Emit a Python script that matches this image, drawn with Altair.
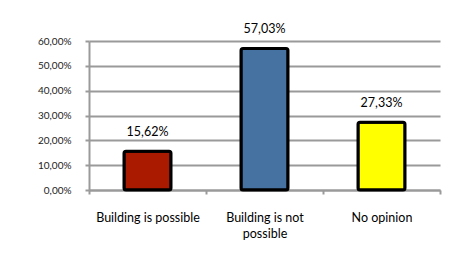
import altair as alt
import pandas as pd

categories = ["Building is possible", "Building is not possible", "No opinion"]
values = [0.1562, 0.5703, 0.2733]
colors = ["#aa1a00", "#4672a2", "#ffff00"]
y_ticks = [0, 0.1, 0.2, 0.3, 0.4, 0.5, 0.6]

df = pd.DataFrame({"cat": categories, "value": values, "color": colors})

FONT = "Lato"
GRID = "#9a9a9a"

x_main = alt.X(
    "cat:N", sort=categories, title=None,
    scale=alt.Scale(paddingInner=0, paddingOuter=0),
    axis=alt.Axis(
        labelAngle=0, ticks=True, tickBand="extent", tickSize=4, tickColor=GRID, tickWidth=2,
        domain=True, domainColor=GRID, domainWidth=2,
        labelFont=FONT, labelFontSize=12.5, labelColor="#000000", labelPadding=17,
        labelLineHeight=16, labelLimit=200,
        labelExpr="datum.label == 'Building is not possible' ? ['Building is not', 'possible'] : datum.label",
    ),
)

y_enc = alt.Y(
    "value:Q", title=None,
    scale=alt.Scale(domain=[0, 0.6], nice=False),
    axis=alt.Axis(
        values=y_ticks, tickCount=7,
        labelOverlap=False, labelBound=False,
        labelExpr="replace(format(datum.value, '.2%'), '.', ',')",
        labelFont=FONT, labelFontSize=10, labelColor="#222222",
        tickSize=4, tickColor=GRID, tickWidth=2, labelPadding=14,
        grid=True, gridColor=GRID, gridWidth=2,
        domain=True, domainColor=GRID, domainWidth=2,
    ),
)

base = alt.Chart(df)

bars = base.mark_bar(size=47, stroke="#000000", strokeWidth=3, cornerRadius=2).encode(
    x=x_main,
    y=y_enc,
    color=alt.Color("color:N", scale=None, legend=None),
)

text = base.transform_calculate(
    label="replace(format(datum.value, '.2%'), '.', ',')"
).mark_text(font=FONT, fontSize=12.5, color="#000000", baseline="bottom", dy=-12).encode(
    x=alt.X("cat:N", sort=categories),
    y="value:Q",
    text="label:N",
)

chart = alt.layer(bars, text).properties(
    width=351,
    height=149,
    autosize=alt.AutoSizeParams(type="none"),
    padding={"left": 81, "top": 33, "right": 10, "bottom": 70},
    background="#ffffff",
).configure_view(stroke=None)

chart.save("out.html", embed_options={"renderer": "svg", "actions": False})
